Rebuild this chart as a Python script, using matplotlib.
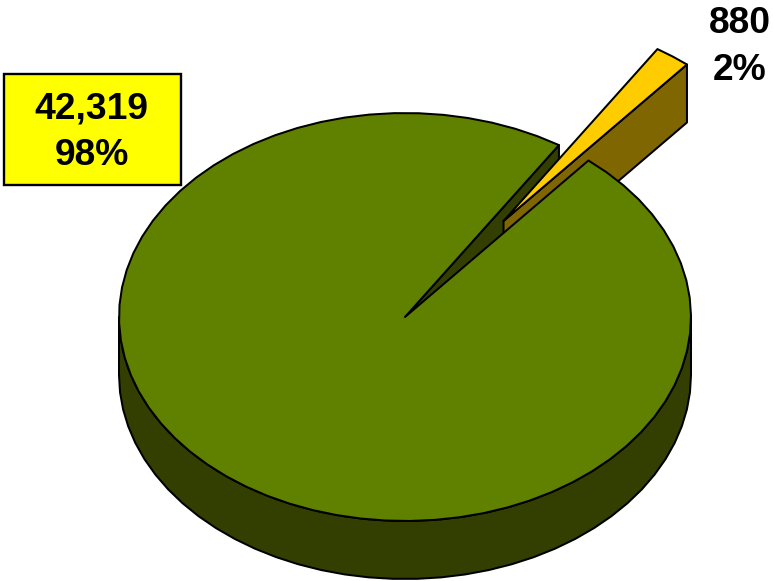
import numpy as np
import matplotlib
matplotlib.use("Agg")
import matplotlib.pyplot as plt
from matplotlib.patches import Polygon, Rectangle

# Slice values, counter-clockwise from the wedge's lower edge
small_value = 880
large_value = 42319

TOP_LARGE = "#608000"
SIDE_LARGE = "#333F00"
TOP_SMALL = "#FFCC00"
SIDE_SMALL = "#806600"
BOX_FILL = "#FFFF00"
EDGE = "black"
LW = 1.45

# Pie geometry in pixel space
CX, CY = 405.0, 317.0
RX, RY = 286.0, 204.0
DEPTH = 58.0
EXPLODE = np.array([98.5, -96.0])
START_DEG = 50.1
STEP_DEG = 5.0

total = small_value + large_value
small_sweep = 360.0 * small_value / total
centre = np.array([CX, CY])
down = np.array([0.0, DEPTH])


def rim(a0, a1, origin=centre):
    """Points along the top ellipse from angle a0 to a1 (degrees)."""
    n = max(2, int(abs(a1 - a0) / STEP_DEG) + 2)
    t = np.radians(np.linspace(a0, a1, n))
    return np.column_stack((origin[0] + RX * np.cos(t), origin[1] - RY * np.sin(t)))


def poly(ax, pts, color, z):
    ax.add_patch(Polygon(pts, closed=True, facecolor=color, edgecolor=EDGE,
                         linewidth=LW, joinstyle="round", zorder=z))


fig = plt.figure(figsize=(7.73, 5.81), dpi=100, facecolor="white")
ax = fig.add_axes([0, 0, 1, 1])
ax.set_xlim(0, 773)
ax.set_ylim(581, 0)
ax.axis("off")

a_low = START_DEG
a_high = START_DEG + small_sweep

# Cut face of the large slice, seen through the gap
edge_far = rim(a_high, a_high)[0]
poly(ax, [centre, edge_far, edge_far + down, centre + down], SIDE_LARGE, 1)

# Exploded small slice: cut face first, then its top
tip = centre + EXPLODE
small_low = rim(a_low, a_low, tip)[0]
poly(ax, [tip, small_low, small_low + down, tip + down], SIDE_SMALL, 2)
poly(ax, np.vstack(([tip], rim(a_low, a_high, tip))), TOP_SMALL, 3)

# Outer wall of the large slice along the front half
front = rim(180, 360)
poly(ax, np.vstack((front, (front + down)[::-1])), SIDE_LARGE, 4)

# Top of the large slice
poly(ax, np.vstack(([centre], rim(a_high, a_low + 360))), TOP_LARGE, 5)

# Value labels
font = dict(family=["Liberation Sans", "DejaVu Sans"], fontweight="bold",
            fontsize=26.8, color="black", ha="center", va="center",
            linespacing=1.42, zorder=7)


def label(value):
    return f"{value:,}\n{round(100 * value / total)}%"


ax.add_patch(Rectangle((3.5, 73.5), 177, 111, facecolor=BOX_FILL, edgecolor=EDGE,
                       linewidth=1.7, zorder=6))
ax.text(91.5, 132, label(large_value), **font)
ax.text(739.5, 47, label(small_value), **font)

fig.savefig("out.png", dpi=100, facecolor="white")
